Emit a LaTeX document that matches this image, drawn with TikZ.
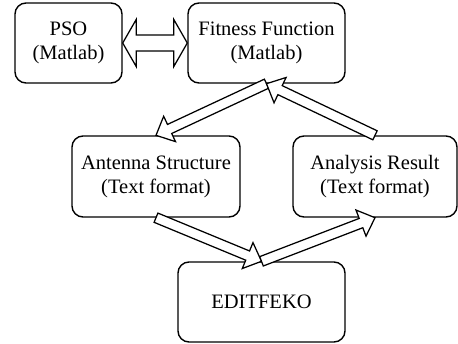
\documentclass[tikz,border=0pt]{standalone}
\usepackage{fontspec}
\setmainfont{Liberation Serif}
\usetikzlibrary{calc}
\newcommand\sw{5pt}
\newcommand\hw{14pt}
\newcommand\hl{15pt}
\newcommand\blockarrow[2]{%
  \coordinate (hb) at ($(#2)!\hl!(#1)$);
  \draw[blockarr] ($(#1)!\sw!90:(#2)$) -- ($(hb)!\sw!-90:(#1)$) -- ($(hb)!\hw!-90:(#1)$) -- (#2)
    -- ($(hb)!\hw!90:(#1)$) -- ($(hb)!\sw!90:(#1)$) -- ($(#1)!\sw!-90:(#2)$) -- cycle;}
\newcommand\dblockarrow[2]{%
  \coordinate (ha) at ($(#1)!13.5pt!(#2)$);
  \coordinate (hb) at ($(#2)!13.5pt!(#1)$);
  \draw[blockarr] (#1) -- ($(ha)!23.5pt!90:(#2)$) -- ($(ha)!8pt!90:(#2)$) -- ($(hb)!8pt!-90:(#1)$)
    -- ($(hb)!23.5pt!-90:(#1)$) -- (#2) -- ($(hb)!23.5pt!90:(#1)$) -- ($(hb)!8pt!90:(#1)$)
    -- ($(ha)!8pt!-90:(#2)$) -- ($(ha)!23.5pt!-90:(#2)$) -- cycle;}
\tikzset{
  box/.style={draw, line width=1.4pt, rounded corners=11pt, inner sep=0pt, align=center,
    font=\fontsize{20.5}{24}\selectfont},
  blockarr/.style={draw, fill=white, line width=1.25pt, line join=miter, miter limit=10}
}
\begin{document}
\begin{tikzpicture}[x=1pt,y=-1pt]
\useasboundingbox (0,0) rectangle (458,343);
\node[box, minimum width=107pt, minimum height=80pt] (pso) at (68.5,43) {PSO\\(Matlab)};
\node[box, minimum width=157pt, minimum height=80pt] (fit) at (266.5,43) {Fitness Function\\(Matlab)};
\node[box, minimum width=168pt, minimum height=81pt] (ant) at (156,176.5) {Antenna Structure\\(Text format)};
\node[box, minimum width=164pt, minimum height=81pt] (ana) at (375,176.5) {Analysis Result\\(Text format)};
\node[box, minimum width=167pt, minimum height=80pt] (edit) at (261.5,302) {EDITFEKO};
\dblockarrow{pso.east}{fit.west}
\blockarrow{fit.south}{ant.north}
\blockarrow{ana.north}{fit.south}
\blockarrow{ant.south}{edit.north}
\blockarrow{edit.north}{ana.south}
\end{tikzpicture}
\end{document}
